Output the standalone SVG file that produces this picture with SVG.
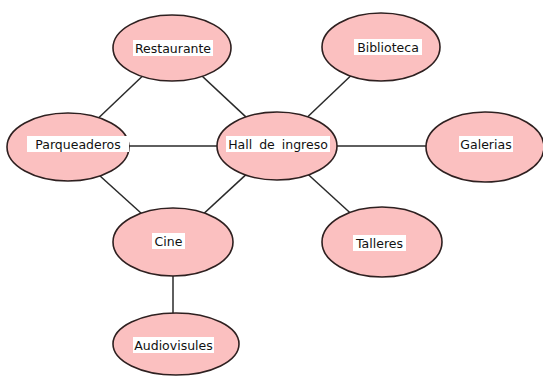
<svg xmlns="http://www.w3.org/2000/svg" width="543" height="376" viewBox="0 0 543 376">
<style>
.n ellipse{fill:#fbc0c0;stroke:#2e2020;stroke-width:1.6}
.n rect{fill:#ffffff}
.n text{font-family:"DejaVu Sans","Liberation Sans",sans-serif;font-size:12.5px;fill:#111;text-anchor:middle;dominant-baseline:central}
#connectors line{stroke:#2a2a2a;stroke-width:1.5}
</style>
<rect width="543" height="376" fill="#ffffff"/>
<g id="connectors">
<line x1="172" y1="48" x2="68" y2="147"/>
<line x1="172" y1="48" x2="277" y2="146"/>
<line x1="68" y1="146" x2="277" y2="146"/>
<line x1="277" y1="146" x2="381" y2="47"/>
<line x1="277" y1="146" x2="485" y2="146"/>
<line x1="277" y1="146" x2="382" y2="242"/>
<line x1="68" y1="147" x2="173" y2="242"/>
<line x1="277" y1="146" x2="173" y2="242"/>
<line x1="173" y1="242" x2="173" y2="343"/>
</g>
<g id="restaurante" class="n">
<ellipse cx="172" cy="48" rx="59" ry="33"/>
<rect x="133" y="40" width="80" height="16"/>
<text x="173" y="48">Restaurante</text>
</g>
<g id="biblioteca" class="n">
<ellipse cx="381" cy="47" rx="59" ry="34"/>
<rect x="354" y="39" width="68" height="16"/>
<text x="388" y="47">Biblioteca</text>
</g>
<g id="parqueaderos" class="n">
<ellipse cx="68" cy="147" rx="61" ry="34"/>
<rect x="27" y="136" width="102" height="16"/>
<text x="78" y="144">Parqueaderos</text>
</g>
<g id="hall" class="n">
<ellipse cx="277" cy="146" rx="60" ry="34"/>
<rect x="226" y="136" width="104" height="16"/>
<text x="278" y="144" word-spacing="3">Hall de ingreso</text>
</g>
<g id="galerias" class="n">
<ellipse cx="485" cy="147" rx="59" ry="35"/>
<rect x="459" y="136" width="54" height="16"/>
<text x="486" y="144">Galerias</text>
</g>
<g id="cine" class="n">
<ellipse cx="173" cy="242" rx="60" ry="34"/>
<rect x="152" y="233" width="33" height="16"/>
<text x="168.5" y="241">Cine</text>
</g>
<g id="talleres" class="n">
<ellipse cx="382" cy="242" rx="60" ry="35"/>
<rect x="353" y="235" width="53" height="16"/>
<text x="379.5" y="243">Talleres</text>
</g>
<g id="audiovisules" class="n">
<ellipse cx="176" cy="344" rx="63" ry="31"/>
<rect x="133" y="337" width="81" height="16"/>
<text x="173.5" y="345">Audiovisules</text>
</g>
</svg>
